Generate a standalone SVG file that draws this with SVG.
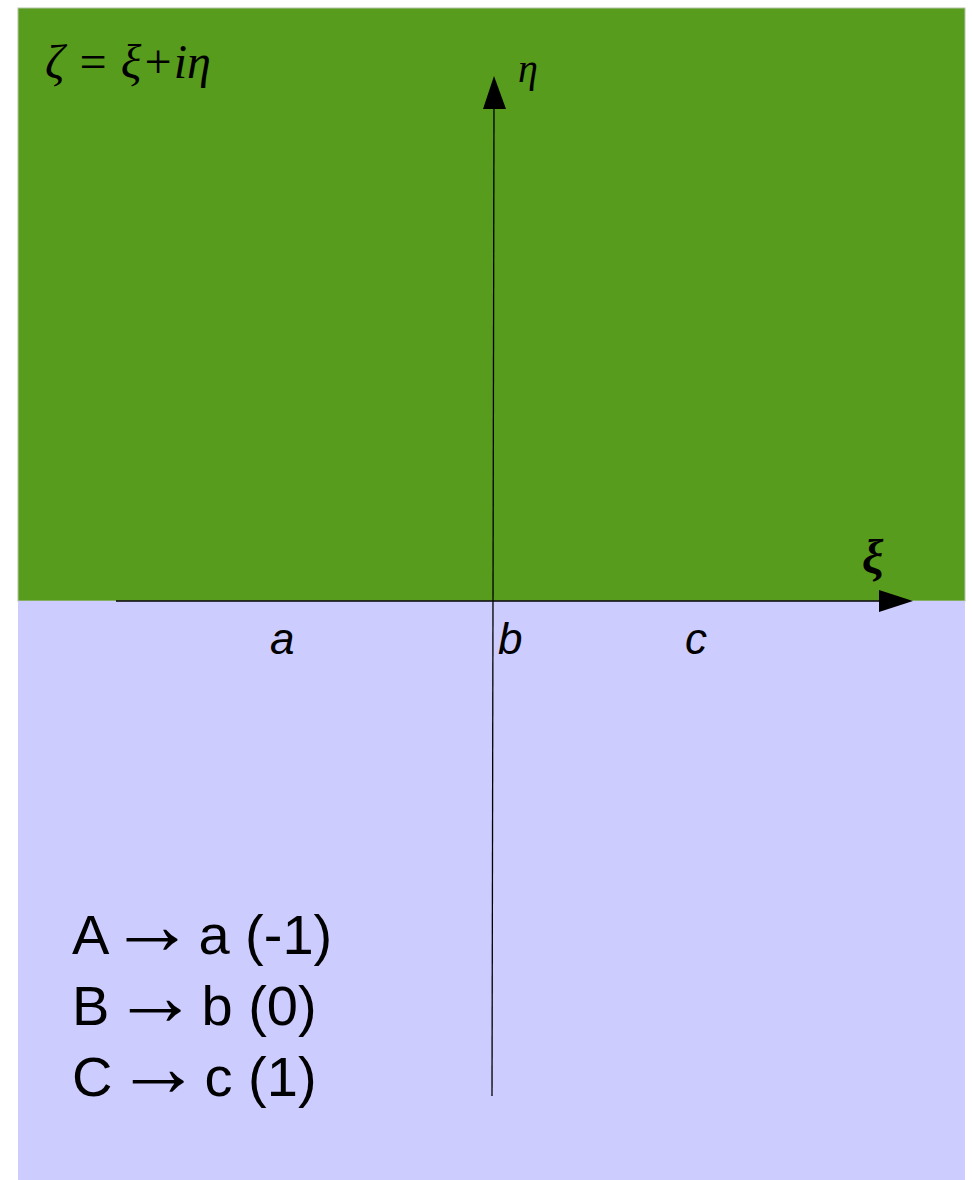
<svg xmlns="http://www.w3.org/2000/svg" width="972" height="1180" viewBox="0 0 972 1180">
<style>
.ax{stroke:#000;stroke-width:1.3;fill:none}
.lbl{font-family:"Liberation Sans",Arial,sans-serif;font-style:italic;font-size:44px;fill:#000}
.math{font-family:"Liberation Serif","Times New Roman",serif;font-style:italic;fill:#000}
.leg{font-family:"Liberation Sans",Arial,sans-serif;font-size:56px;fill:#000}
.arr{font-size:86px}
</style>
<rect width="972" height="1180" fill="#ffffff"/>
<g id="upper-half-plane">
<rect x="18" y="8" width="947" height="593" fill="#579c1c" stroke="#b5c4a8" stroke-width="1"/>
</g>
<g id="lower-half-plane">
<rect x="18" y="601" width="947" height="579" fill="#ccccff"/>
</g>
<g id="connectors">
<line class="ax" x1="116" y1="601" x2="880" y2="601"/>
<polygon points="879,590 913,601 879,612" fill="#000"/>
<line class="ax" x1="492" y1="1096" x2="494" y2="108"/>
<polygon points="483,109 494,76 506,109" fill="#000"/>
</g>
<g id="title">
<text class="math" x="45" y="78" font-size="48">ζ = ξ+iη</text>
</g>
<g id="eta-label"><text class="math" x="518" y="82" font-size="40">η</text></g>
<g id="xi-label"><text class="math" x="862" y="573" font-size="48" font-weight="bold">ξ</text></g>
<g id="a-label"><text class="lbl" x="270" y="654">a</text></g>
<g id="b-label"><text class="lbl" x="498" y="654">b</text></g>
<g id="c-label"><text class="lbl" x="685" y="654">c</text></g>
<g id="legend">
<text class="leg" x="72" y="954">A <tspan class="arr" dx="-13">→</tspan><tspan dx="-12"> a (-1)</tspan></text>
<text class="leg" x="72" y="1025">B <tspan class="arr" dx="-13">→</tspan><tspan dx="-12"> b (0)</tspan></text>
<text class="leg" x="72" y="1096">C <tspan class="arr" dx="-13">→</tspan><tspan dx="-12"> c (1)</tspan></text>
</g>
</svg>
